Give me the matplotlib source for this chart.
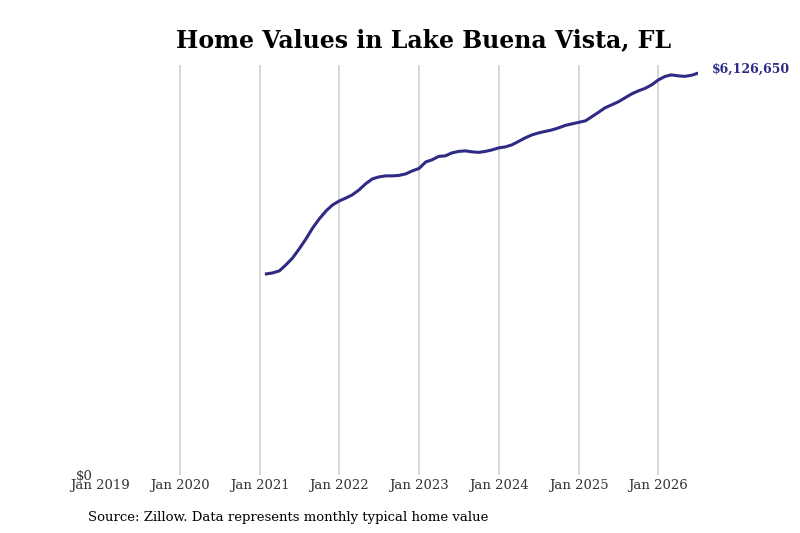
import matplotlib
matplotlib.use("Agg")
import matplotlib.pyplot as plt
import pandas as pd

# monthly typical home value, in millions of dollars (Feb 2021 - Jul 2026)
start_month = "2021-02-01"
values_m = [
    3.066, 3.081, 3.112, 3.203, 3.310, 3.447, 3.600, 3.768, 3.905, 4.027, 4.118,
    4.179, 4.225, 4.271, 4.347, 4.439, 4.515, 4.545, 4.561, 4.561, 4.568, 4.591, 4.637,
    4.675, 4.774, 4.805, 4.858, 4.866, 4.912, 4.934, 4.942, 4.927, 4.919, 4.934, 4.957,
    4.988, 5.003, 5.034, 5.087, 5.140, 5.186, 5.216, 5.239, 5.262, 5.293, 5.331, 5.354,
    5.377, 5.400, 5.461, 5.529, 5.598, 5.644, 5.690, 5.751, 5.812, 5.857, 5.895, 5.949,
    6.025, 6.078, 6.101, 6.086, 6.078, 6.094, 6.12665,
]
tick_years = [2019, 2020, 2021, 2022, 2023, 2024, 2025, 2026]
tick_labels = [f"Jan {y}" for y in tick_years]
title = "Home Values in Lake Buena Vista, FL"
source = "Source: Zillow. Data represents monthly typical home value"

line_color = "#2e2a85"

dates = pd.date_range(start_month, periods=len(values_m), freq="MS")
vals = [v * 1e6 for v in values_m]

plt.rcParams["font.family"] = ["DejaVu Serif"]

fig = plt.figure(figsize=(8, 5.33), dpi=100)
ax = fig.add_axes([0.125, 0.1088, 0.7475, 0.769])

tick_dates = [pd.Timestamp(f"{y}-01-01") for y in tick_years]
for d in tick_dates[1:]:
    ax.axvline(d, color="#cfcfcf", linewidth=1.2, zorder=1)

ax.plot(dates, vals, color=line_color, linewidth=2.2, zorder=3)

ax.set_xlim(pd.Timestamp("2019-01-01"), dates[-1])
ax.set_ylim(0, max(vals) * 1.02)

ax.set_xticks(tick_dates)
ax.set_xticklabels(tick_labels, fontsize=9.5, color="#333333")
ax.set_yticks([0])
ax.set_yticklabels(["$0"], fontsize=9.5, color="#333333")
ax.tick_params(axis="both", length=0)
ax.tick_params(axis="x", pad=3)
ax.tick_params(axis="y", pad=5)
for s in ax.spines.values():
    s.set_visible(False)

ax.annotate(f"${vals[-1]:,.0f}", xy=(dates[-1], vals[-1]), xytext=(10, 3),
            textcoords="offset points", color=line_color, fontsize=9,
            fontweight="bold", va="center", ha="left", annotation_clip=False)

fig.text(424 / 800, 1 - 40 / 533, title, ha="center", va="center",
         fontsize=17, fontweight="bold")
fig.text(88 / 800, 1 - 517 / 533, source, ha="left", va="center", fontsize=9.5)

fig.savefig("out.png", dpi=100)
